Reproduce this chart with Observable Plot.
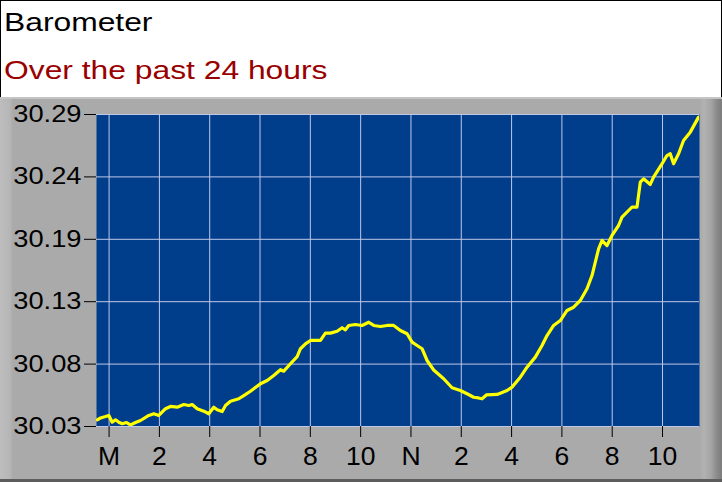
<!DOCTYPE html>
<html>
<head>
<meta charset="utf-8">
<script src="https://cdn.jsdelivr.net/npm/d3@7"></script>
<script src="https://cdn.jsdelivr.net/npm/@observablehq/plot@0.6"></script>
<style>
  html, body { margin: 0; padding: 0; background: #fff; }
  #wrap { position: relative; width: 722px; height: 482px; overflow: hidden; font-family: "Liberation Sans", Arial, sans-serif; }
  #header { position: absolute; left: 0; top: 0; width: 722px; height: 97px; box-sizing: border-box; border: 1px solid #000; border-bottom: none; background: #fff; }
  .ttl { position: absolute; left: 3px; font-size: 26.5px; line-height: 1; white-space: nowrap; transform: scaleX(1.2); transform-origin: left center; }
  #title { top: 8px; color: #000; }
  #subtitle { top: 56px; color: #990000; }
  #panel { position: absolute; left: 0; top: 97px; width: 722px; height: 385px;
    background: linear-gradient(to right, #bdbdbd 0px, #b6b6b6 10px, #aaaaaa 13px, #aaaaaa 700px, #b2b2b2 704px, #a4a4a4 711px, #8a8a8a 717px, #7c7c7c 722px);
    box-shadow: inset 0 -3px 0 #5c5c5c, inset 0 2px 0 #c4c4c4; }
  #panel svg { position: absolute; left: 0; top: 0; }
</style>
</head>
<body>
<div id="wrap">
  <div id="header">
    <div class="ttl" id="title">Barometer</div>
    <div class="ttl" id="subtitle">Over the past 24 hours</div>
  </div>
  <div id="panel"></div>
</div>
<script>
// hours since midnight (M) for each reading
const hours = [-0.471, -0.340, -0.141, -0.010, 0.125, 0.256, 0.387, 0.522, 0.693, 0.852,
  1.051, 1.250, 1.579, 1.778, 1.977, 2.243, 2.442, 2.708, 2.970, 3.169,
  3.304, 3.502, 3.765, 3.963, 4.162, 4.297, 4.496, 4.627, 4.826, 5.155,
  5.354, 5.620, 6.018, 6.284, 6.546, 6.812, 6.943, 7.210, 7.476, 7.607,
  7.806, 8.004, 8.402, 8.600, 8.799, 9.065, 9.264, 9.395, 9.526, 9.792,
  10.058, 10.321, 10.519, 10.786, 11.052, 11.314, 11.580, 11.846, 12.045, 12.244,
  12.442, 12.641, 12.903, 13.301, 13.634, 13.964, 14.230, 14.493, 14.680, 14.827,
  14.997, 15.422, 15.553, 15.820, 16.018, 16.348, 16.614, 16.944, 17.210, 17.409,
  17.671, 17.937, 18.204, 18.466, 18.732, 18.998, 19.197, 19.328, 19.459, 19.594,
  19.793, 19.992, 20.254, 20.389, 20.651, 20.786, 20.985, 21.116, 21.247, 21.513,
  21.644, 21.978, 22.176, 22.307, 22.439, 22.638, 22.836, 23.103, 23.432];
// barometric pressure (inHg)
const pressure = [30.0356, 30.0371, 30.0383, 30.0392, 30.0336, 30.0356, 30.0336, 30.0323, 30.0333, 30.0313,
  30.0333, 30.0350, 30.0392, 30.0406, 30.0392, 30.0448, 30.0467, 30.0461, 30.0483, 30.0475,
  30.0483, 30.0448, 30.0428, 30.0406, 30.0461, 30.0439, 30.0425, 30.0475, 30.0511, 30.0531,
  30.0558, 30.0594, 30.0656, 30.0683, 30.0725, 30.0773, 30.0761, 30.0823, 30.0883, 30.0948,
  30.0989, 30.1017, 30.1017, 30.1078, 30.1078, 30.1094, 30.1123, 30.1106, 30.1142, 30.1150,
  30.1142, 30.1169, 30.1142, 30.1133, 30.1142, 30.1142, 30.1100, 30.1073, 30.1003, 30.0975,
  30.0948, 30.0850, 30.0771, 30.0698, 30.0623, 30.0600, 30.0573, 30.0544, 30.0538, 30.0531,
  30.0563, 30.0567, 30.0578, 30.0600, 30.0628, 30.0711, 30.0794, 30.0878, 30.0975, 30.1058,
  30.1142, 30.1183, 30.1267, 30.1294, 30.1350, 30.1448, 30.1558, 30.1669, 30.1781, 30.1850,
  30.1808, 30.1892, 30.1975, 30.2044, 30.2100, 30.2128, 30.2128, 30.2336, 30.2364, 30.2317,
  30.2378, 30.2489, 30.2558, 30.2573, 30.2489, 30.2573, 30.2683, 30.2753, 30.2878];

const xTicks = [0, 2, 4, 6, 8, 10, 12, 14, 16, 18, 20, 22];
const xTickLabels = ["M", "2", "4", "6", "8", "10", "N", "2", "4", "6", "8", "10"];
const yTicks = [30.03, 30.082, 30.134, 30.186, 30.238, 30.29];
const yTickLabels = ["30.03", "30.08", "30.13", "30.19", "30.24", "30.29"];

const data = hours.map((h, i) => ({h, p: pressure[i]}));

const chart = Plot.plot({
  width: 722,
  height: 385,
  marginLeft: 96,
  marginRight: 23,
  marginTop: 17,
  marginBottom: 56,
  style: {background: "transparent", fontFamily: "'Liberation Sans', Arial, sans-serif", color: "#000", overflow: "visible"},
  x: {domain: [-0.5, 23.47], label: null},
  y: {domain: [30.03, 30.29], label: null},
  marks: [
    Plot.frame({fill: "#003d8b", stroke: null}),
    Plot.ruleX(xTicks, {x: d => d, stroke: "#c0c8e8", strokeWidth: 1}),
    Plot.ruleY(yTicks, {y: d => d, stroke: "#c0c8e8", strokeWidth: 1}),
    Plot.axisX(xTicks, {tickSize: 11, tickPadding: 9, fontSize: 26.5, stroke: "#000", label: null,
      tickFormat: d => xTickLabels[xTicks.indexOf(d)]}),
    Plot.axisY(yTicks, {tickSize: 12, tickPadding: 3, fontSize: 23.5, stroke: "#000", label: null,
      tickFormat: d => yTickLabels[yTicks.indexOf(d)]}),
    Plot.line(data, {x: "h", y: "p", stroke: "#ffff00", strokeWidth: 3.2, strokeLinejoin: "round", strokeLinecap: "round", clip: true})
  ]
});
document.getElementById("panel").appendChild(chart);

// widen the y tick labels to match the reference's stretched lettering
chart.querySelectorAll('g[aria-label="y-axis tick label"] text').forEach(t => {
  const tr = t.getAttribute("transform") || "";
  t.setAttribute("transform", tr + " scale(1.16,1)");
});
</script>
</body>
</html>
